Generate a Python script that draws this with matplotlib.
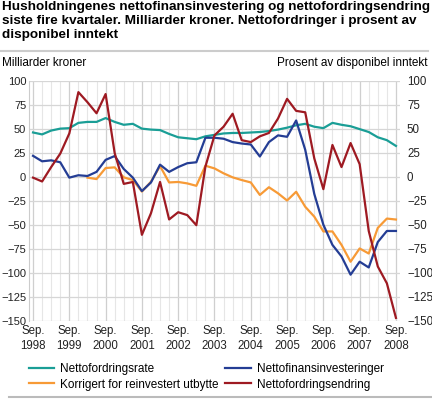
import numpy as np
import matplotlib
matplotlib.use("Agg")
import matplotlib.pyplot as plt
from matplotlib.lines import Line2D

plt.rcParams["font.family"] = ["Liberation Sans", "DejaVu Sans"]

# quarterly values, Sep 1998 .. Sep 2008
years = list(range(1998, 2009))
tick_labels = ["Sep.\n%d" % y for y in years]

nettofordringsrate = [46, 44, 48, 50, 50.5, 56, 57, 57, 61, 57, 54, 55, 50, 49, 48.5,
                      44.5, 41, 40, 39, 42, 43.5, 45, 45.5, 45.5, 46, 46.5, 47.5, 49,
                      51, 53.5, 55, 52, 50.5, 56, 54, 52.5, 49.5, 46.5, 41, 38, 32]
nettofinans = [21.7, 16, 17, 15, -1, 1.5, 0.7, 5, 17.5, 21.5, 8, -1, -15, -6, 12.5,
               5, 10, 14, 15, 40.5, 40.5, 39.5, 36, 34.5, 33.5, 21, 36, 43, 41.5,
               58.5, 28, -18, -50, -71, -83, -102, -88.5, -94.5, -68, -56.5, -56.5]
korrigert = [np.nan] * 6 + [-1, -2.5, 9, 9.7, -0.7, -3.5, -15.5, -5.2, 11, -6, -5.5,
                            -7, -9.5, 11.4, 8.6, 3.5, -0.7, -3.5, -6, -19, -11, -17.3,
                            -24.8, -15.7, -31.3, -41.6, -57, -57, -71, -88.5, -74.7,
                            -80, -53.3, -43.6, -44.6]
nettofordringsendring = [-1, -5, 10, 24, 45, 88, 77.5, 66, 86, 24.5, -7.5, -5.5, -60.5,
                         -38, -5.5, -44.5, -37, -40, -50.5, 10.5, 43, 52, 65.5, 38, 36,
                         42, 45.5, 60.5, 81, 68.5, 67, 19, -13, 33, 10, 35, 13, -56.5,
                         -93.5, -111, -147]

x = np.arange(len(nettofordringsrate))

c_teal = "#1a9e96"
c_blue = "#243d94"
c_orange = "#f79a36"
c_red = "#9e1a22"

fig = plt.figure(figsize=(4.32, 3.99), dpi=100)
ax = fig.add_axes([0.067, 0.196, 0.859, 0.602])

l_teal, = ax.plot(x, nettofordringsrate, color=c_teal, lw=1.6)
l_orange, = ax.plot(x, korrigert, color=c_orange, lw=1.6)
l_blue, = ax.plot(x, nettofinans, color=c_blue, lw=1.6)
l_red, = ax.plot(x, nettofordringsendring, color=c_red, lw=1.6)

yticks = list(range(-150, 101, 25))
ax.set_xlim(-0.45, 40.45)
ax.set_ylim(-150, 100)
ax.set_yticks(yticks)
ax.set_xticks(np.arange(0, 41, 4))
ax.set_xticklabels(tick_labels, linespacing=1.3)
ax.set_xticks(x, minor=True)
ax.grid(True, which="minor", axis="x", color="#e6e6e6", lw=0.8)
ax.grid(True, which="major", axis="x", color="#cfcfcf", lw=0.9)
ax.grid(True, which="major", axis="y", color="#d6d6d6", lw=0.9)
ax.set_axisbelow(True)
ax.tick_params(which="both", length=0, labelsize=8.3, pad=3, colors="#222222")
ax.tick_params(axis="y", labelsize=8, pad=2)

ax2 = ax.twinx()
ax2.set_ylim(-150, 100)
ax2.set_yticks(yticks)
ax2.tick_params(length=0, labelsize=8.3, pad=5, colors="#222222")

for a in (ax, ax2):
    for s in a.spines.values():
        s.set_visible(False)
ax.spines["left"].set_visible(True)
ax.spines["left"].set_color("#cccccc")

fig.text(0.005, 0.997, "Husholdningenes nettofinansinvestering og nettofordringsendring\n"
         "siste fire kvartaler. Milliarder kroner. Nettofordringer i prosent av\n"
         "disponibel inntekt", ha="left", va="top", fontsize=9.7, fontweight="bold",
         linespacing=1.2)
fig.add_artist(Line2D([0, 0.99], [0.873, 0.873], color="#cccccc", lw=1.5))
fig.text(0.005, 0.842, "Milliarder kroner", ha="left", va="center", fontsize=8.5)
fig.text(0.99, 0.842, "Prosent av disponibel inntekt", ha="right", va="center", fontsize=8.5)

fig.legend([l_teal, l_orange, l_blue, l_red],
           ["Nettofordringsrate", "Korrigert for reinvestert utbytte",
            "Nettofinansinvesteringer", "Nettofordringsendring"],
           ncol=2, loc="upper left", bbox_to_anchor=(0.066, 0.09),
           frameon=False, fontsize=8.5, handlelength=2.2, handletextpad=0.45,
           columnspacing=0.6, labelspacing=0.3, borderaxespad=0, borderpad=0)
fig.add_artist(Line2D([0.02, 1.0], [0.005, 0.005], color="#bbbbbb", lw=1.5))

fig.savefig("out.png", dpi=100)
